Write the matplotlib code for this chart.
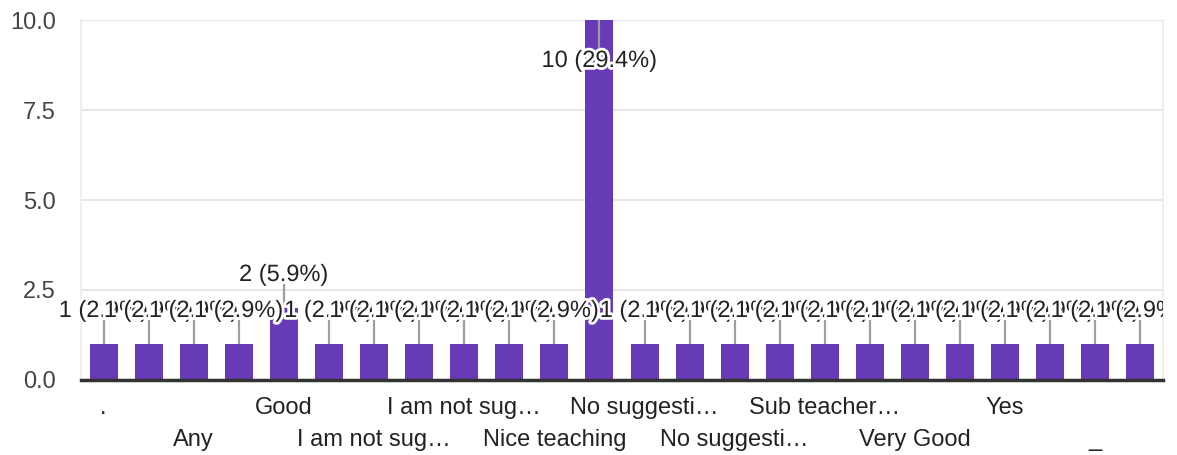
import matplotlib
matplotlib.use("Agg")
import matplotlib.pyplot as plt
import matplotlib.patheffects as pe
from matplotlib.transforms import offset_copy, Bbox, TransformedBbox

# answers, sorted as in the form summary (long ones already shortened)
responses = [".", "All good", "Any", "Excellent", "Good", "Good teaching",
             "I am not sug…", "I am not sug…", "I am not sug…", "Nice",
             "Nice teaching", "No", "No suggesti…", "No suggesti…", "No suggesti…",
             "Nothing", "Sub teacher…", "Teaching good", "Very Good", "Very nice",
             "Yes", "Yes good", "_", "—"]
counts = [1, 1, 1, 1, 2, 1, 1, 1, 1, 1, 1, 10,
          1, 1, 1, 1, 1, 1, 1, 1, 1, 1, 1, 1]
yticks = [0, 2.5, 5, 7.5, 10]

total = sum(counts)
purple = "#673ab7"
plt.rcParams["font.family"] = ["Liberation Sans", "DejaVu Sans"]

W, H = 1177, 455
fig = plt.figure(figsize=(W / 100, H / 100), dpi=100)
left, right, top, bottom = 81, 1163, 20, 380
ax = fig.add_axes([left / W, 1 - bottom / H, (right - left) / W, (bottom - top) / H])
px = (bottom - top) / 10  # pixels per unit on y

x = list(range(len(counts)))
ax.bar(x, counts, width=0.62, color=purple, zorder=2)

ax.set_xlim(-0.5, len(counts) - 0.5)
ax.set_ylim(0, 10)
ax.set_yticks(yticks)
ax.set_yticklabels([f"{t:.1f}" for t in yticks])
ax.tick_params(axis="y", length=0, pad=18, labelsize=17, labelcolor="#444444")
ax.set_xticks([])
ax.grid(axis="y", color="#e6e6e6", lw=1.5, zorder=0)
ax.set_axisbelow(True)
for s in ["left", "right"]:
    ax.spines[s].set_color("#ececec")
    ax.spines[s].set_linewidth(1.2)
ax.spines["top"].set_visible(False)
ax.spines["bottom"].set_color("#333333")
ax.spines["bottom"].set_linewidth(2.5)
ax.spines["bottom"].set_zorder(5)

# value labels with leader lines; labels clipped at the right edge only
clip = TransformedBbox(Bbox.from_extents(0, 0, right / W, 1), fig.transFigure)
halo = [pe.withStroke(linewidth=4, foreground="white")]
for i, c in enumerate(counts):
    label = f"{c} ({c / total * 100:.1f}%)"
    if c >= 9.5:
        # no room above the bar, put it inside
        ax.plot([i, i], [c, c - 28 / px], color="#9e9e9e", lw=1.6, zorder=3,
                solid_capstyle="butt")
        tr = offset_copy(ax.transData, fig=fig, y=-47, units="dots")
    else:
        ax.plot([i, i], [c, c + 24 / px], color="#9e9e9e", lw=1.6, zorder=3,
                solid_capstyle="butt", clip_on=False)
        tr = offset_copy(ax.transData, fig=fig, y=27, units="dots")
    t = ax.text(i, c, label, transform=tr, ha="center", va="baseline",
                fontsize=17, color="#222222", zorder=10 + i, path_effects=halo)
    t.set_clip_box(clip)
    t.set_clip_on(True)

# category labels, every other one, in two staggered rows
for k, i in enumerate(range(0, len(responses), 2)):
    dy = -28 if k % 2 == 0 else -60
    ax.annotate(responses[i], xy=(i, 0), xycoords=("data", "axes fraction"),
                xytext=(0, dy * 0.72), textcoords="offset points",
                ha="center", va="center", fontsize=17, color="#222222",
                annotation_clip=False)

fig.savefig("out.png", dpi=100)
